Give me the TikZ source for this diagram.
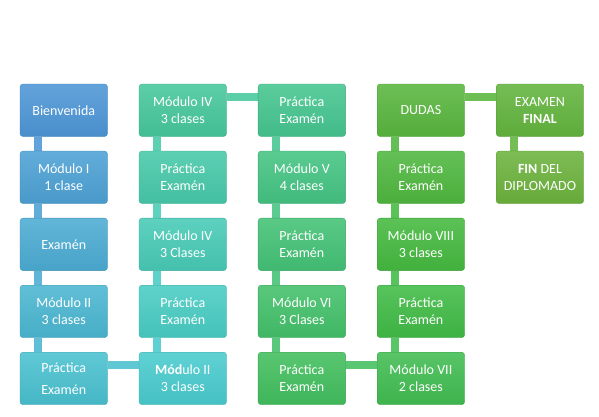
\documentclass[tikz,border=0pt]{standalone}
\usepackage{fontspec}
\setmainfont{Carlito}
\usepackage{tikz}
\usetikzlibrary{positioning,backgrounds}

% colours of the stages, from blue to green along the course
\foreach \i in {0,...,21}{%
	\pgfmathsetmacro\hue{208-112*\i/21}%
	\pgfmathsetmacro\sat{0.64+0.02*\i/21}%
	\pgfmathsetmacro\bri{0.84-0.14*\i/21}%
	\edef\tmp{\noexpand\definecolor{tmpcol}{Hsb}{\hue,\sat,\bri}}\tmp
	\xglobal\colorlet{col\i}[rgb]{tmpcol}%
}

\begin{document}
\begin{tikzpicture}[
			x=1pt, y=1pt,
			node distance=14.25pt and 31.25pt,
			font=\fontsize{14}{17}\selectfont,
			stage/.style={
				rectangle,
				rounded corners=3pt,
				top color=#1!88!white,
				bottom color=#1!95!black,
				draw=#1!85!black,
				line width=0.3pt,
				text=white,
				align=center,
				inner sep=0pt,
				minimum width=87.5pt,
				minimum height=52.5pt
			},
			bar/.style={
				line width=7.5pt,
				draw=#1!88!white
			}
			]
			\useasboundingbox (0,0) rectangle (599,-416);
			
			% first column, going down
			\node [stage=col0] (stage0) at (63.75,-110.25) {Bienvenida};
			\node [stage=col1, below=of stage0] (stage1) {Módulo I\\1 clase};
			\node [stage=col2, below=of stage1] (stage2) {Examén};
			\node [stage=col3, below=of stage2] (stage3) {Módulo II\\3 clases};
			\node [stage=col4, below=of stage3] (stage4) {Práctica\\[5pt]Examén};
			
			% second column, going up
			\node [stage=col5, right=of stage4] (stage5) {\textbf{Mód}ulo II\\3 clases};
			\node [stage=col6, above=of stage5] (stage6) {Práctica\\Examén};
			\node [stage=col7, above=of stage6] (stage7) {Módulo IV\\3 Clases};
			\node [stage=col8, above=of stage7] (stage8) {Práctica\\Examén};
			\node [stage=col9, above=of stage8] (stage9) {Módulo IV\\3 clases};
			
			% third column, going down
			\node [stage=col10, right=of stage9] (stage10) {Práctica\\Examén};
			\node [stage=col11, below=of stage10] (stage11) {Módulo V\\4 clases};
			\node [stage=col12, below=of stage11] (stage12) {Práctica\\Examén};
			\node [stage=col13, below=of stage12] (stage13) {Módulo VI\\3 Clases};
			\node [stage=col14, below=of stage13] (stage14) {Práctica\\Examén};
			
			% fourth column, going up
			\node [stage=col15, right=of stage14] (stage15) {Módulo VII\\2 clases};
			\node [stage=col16, above=of stage15] (stage16) {Práctica\\Examén};
			\node [stage=col17, above=of stage16] (stage17) {Módulo VIII\\3 clases};
			\node [stage=col18, above=of stage17] (stage18) {Práctica\\Examén};
			\node [stage=col19, above=of stage18] (stage19) {DUDAS};
			
			% last column
			\node [stage=col20, right=of stage19] (stage20) {EXAMEN\\\textbf{FINAL}};
			\node [stage=col21, below=of stage20] (stage21) {\textbf{FIN} DEL\\DIPLOMADO};
			
			% the bars between the stages
			\begin{scope}[on background layer]
			\draw [bar=col0] ([xshift=18pt]stage0.south west) -- ([xshift=18pt]stage1.north west);
			\draw [bar=col1] ([xshift=18pt]stage1.south west) -- ([xshift=18pt]stage2.north west);
			\draw [bar=col2] ([xshift=18pt]stage2.south west) -- ([xshift=18pt]stage3.north west);
			\draw [bar=col3] ([xshift=18pt]stage3.south west) -- ([xshift=18pt]stage4.north west);
			\draw [bar=col4] ([yshift=-13pt]stage4.north east) -- ([yshift=-13pt]stage5.north west);
			\draw [bar=col5] ([xshift=18pt]stage5.north west) -- ([xshift=18pt]stage6.south west);
			\draw [bar=col6] ([xshift=18pt]stage6.north west) -- ([xshift=18pt]stage7.south west);
			\draw [bar=col7] ([xshift=18pt]stage7.north west) -- ([xshift=18pt]stage8.south west);
			\draw [bar=col8] ([xshift=18pt]stage8.north west) -- ([xshift=18pt]stage9.south west);
			\draw [bar=col9] ([yshift=-13pt]stage9.north east) -- ([yshift=-13pt]stage10.north west);
			\draw [bar=col10] ([xshift=18pt]stage10.south west) -- ([xshift=18pt]stage11.north west);
			\draw [bar=col11] ([xshift=18pt]stage11.south west) -- ([xshift=18pt]stage12.north west);
			\draw [bar=col12] ([xshift=18pt]stage12.south west) -- ([xshift=18pt]stage13.north west);
			\draw [bar=col13] ([xshift=18pt]stage13.south west) -- ([xshift=18pt]stage14.north west);
			\draw [bar=col14] ([yshift=-13pt]stage14.north east) -- ([yshift=-13pt]stage15.north west);
			\draw [bar=col15] ([xshift=18pt]stage15.north west) -- ([xshift=18pt]stage16.south west);
			\draw [bar=col16] ([xshift=18pt]stage16.north west) -- ([xshift=18pt]stage17.south west);
			\draw [bar=col17] ([xshift=18pt]stage17.north west) -- ([xshift=18pt]stage18.south west);
			\draw [bar=col18] ([xshift=18pt]stage18.north west) -- ([xshift=18pt]stage19.south west);
			\draw [bar=col19] ([yshift=-13pt]stage19.north east) -- ([yshift=-13pt]stage20.north west);
			\draw [bar=col20] ([xshift=18pt]stage20.south west) -- ([xshift=18pt]stage21.north west);
			\end{scope}
			
			\end{tikzpicture}
\end{document}
